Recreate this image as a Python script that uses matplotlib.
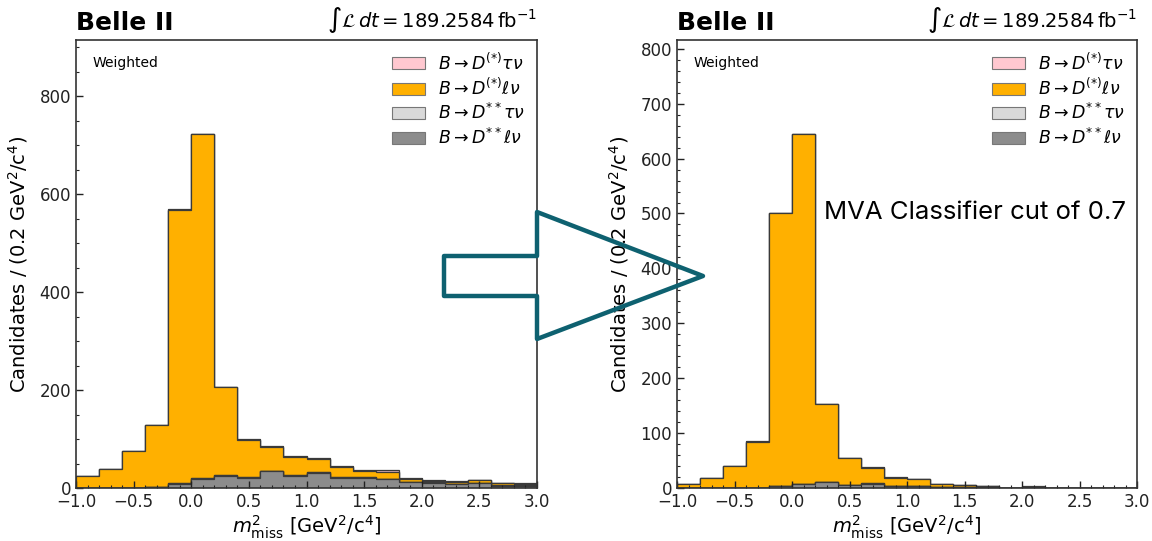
#!/usr/bin/env python3
"""Missing-mass-squared stacks before and after the MVA classifier cut."""
import numpy as np
import matplotlib
matplotlib.use('Agg')
import matplotlib.pyplot as plt
from matplotlib.ticker import MultipleLocator
from matplotlib.patches import Polygon, Patch

edges = np.linspace(-1.0, 3.0, 21)
centers = 0.5 * (edges[:-1] + edges[1:])

labels = [r'$B \to D^{**}\ell\nu$', r'$B \to D^{**}\tau\nu$',
          r'$B \to D^{(*)}\ell\nu$', r'$B \to D^{(*)}\tau\nu$']
colors = ['#8c8c8c', '#d9d9d9', '#ffb000', '#ffc8d0']

# weighted yields per 0.2 GeV^2/c^4 bin, no cut
dss_lnu_all = [0, 0, 1, 3, 9, 19, 25, 21, 34, 24.5, 30.6, 21, 21, 17.7, 11.6, 10, 7.5, 9.5, 5, 5]
dss_tau_all = [0, 0, 0, 0, 0.5, 0.5, 1, 1, 1.5, 1.5, 1.5, 1.5, 1.5, 1.5, 1.5, 1.5, 1, 1, 1, 1]
ds_lnu_all = [24.3, 39.2, 74, 125, 557.5, 702.5, 179.5, 76.5, 47.5, 38, 27.4, 19.5, 12.9, 14.3,
              5.9, 3.5, 3.6, 5, 4, 2.5]
ds_tau_all = [0.2, 0.3, 0.5, 1, 2, 2, 1.5, 1.5, 2, 2, 2.5, 2, 2, 2.5, 2, 2, 1.5, 1.5, 1, 1]

# weighted yields after MVA > 0.7
dss_lnu_cut = [0, 0, 0, 0.5, 3, 7, 11.5, 6, 8, 4, 4, 1.8, 1.5, 2.4, 0.3, 1, 0, 0, 0, 0]
dss_tau_cut = [0, 0, 0, 0, 0.2, 0.3, 0.3, 0.3, 0.3, 0.3, 0.3, 0.2, 0.2, 0.2, 0, 0.3, 0, 0, 0, 0]
ds_lnu_cut = [7.9, 17.8, 40.4, 84, 496.8, 636.7, 140.4, 47.9, 28.1, 14.5, 11.5, 5.5, 3.8, 0.9,
              0, 0.3, 0, 0, 0, 0]
ds_tau_cut = [0.1, 0.2, 0.3, 0.5, 1, 1, 0.8, 0.8, 1.2, 1.2, 1.2, 0.5, 0.5, 0.5, 0.2, 2, 0.3, 0.3, 0, 0]

W, H = 1152, 541
fig = plt.figure(figsize=(W / 100, H / 100), dpi=100)
ax_l = fig.add_axes([76 / W, 53 / H, 461 / W, 448 / H])
ax_r = fig.add_axes([677 / W, 53 / H, 460 / W, 448 / H])


def draw(ax, comps, ymax, ymajor, yminor):
    ax.hist([centers] * 4, bins=edges, weights=comps, stacked=True,
            histtype='stepfilled', color=colors, edgecolor='#3a3a3a', linewidth=0.9)
    ax.set_xlim(-1.0, 3.0)
    ax.set_ylim(0, ymax)
    ax.xaxis.set_major_locator(MultipleLocator(0.5))
    ax.xaxis.set_minor_locator(MultipleLocator(0.1))
    ax.yaxis.set_major_locator(MultipleLocator(ymajor))
    ax.yaxis.set_minor_locator(MultipleLocator(yminor))
    ax.tick_params(which='both', direction='in', labelsize=12, colors='#222222')
    ax.tick_params(which='major', length=5, width=1)
    ax.tick_params(which='minor', length=2.5, width=0.8)
    for s in ax.spines.values():
        s.set_color('#333333')
        s.set_linewidth(1.2)
    ax.set_xlabel(r'$m^2_{\mathrm{miss}}$ [GeV$^2$/c$^4$]', fontsize=14, labelpad=2)
    ax.set_ylabel(r'Candidates / (0.2 GeV$^2$/c$^4$)', fontsize=14)
    ax.yaxis.set_label_coords(-0.1, 0.5)
    ax.text(0.035, 0.965, 'Weighted', transform=ax.transAxes, fontsize=10, va='top')
    handles = [Patch(facecolor=c, edgecolor='#777777', linewidth=0.8) for c in colors]
    ax.legend(handles[::-1], labels[::-1], loc='upper right', frameon=False, fontsize=12.5,
              handlelength=1.9, handleheight=0.7, handletextpad=0.75, labelspacing=0.25,
              borderaxespad=0.3, bbox_to_anchor=(1.0, 1.0))
    ax.text(0.0, 1.012, 'Belle II', transform=ax.transAxes, fontsize=18,
            fontweight='bold', va='bottom', ha='left')
    ax.text(1.0, 1.012, r'$\int\mathcal{L}\,dt = 189.2584\,\mathrm{fb}^{-1}$',
            transform=ax.transAxes, fontsize=14, va='bottom', ha='right')


draw(ax_l, [dss_lnu_all, dss_tau_all, ds_lnu_all, ds_tau_all], 915, 200, 50)
draw(ax_r, [dss_lnu_cut, dss_tau_cut, ds_lnu_cut, ds_tau_cut], 816, 100, 20)

ax_r.text(0.975, 0.615, 'MVA Classifier cut of 0.7', transform=ax_r.transAxes,
          fontsize=18.5, family='Inter', ha='right', va='center')

# outline arrow linking the two panels (pixel coords, y from top)
arrow_px = [(444, 256), (537, 256), (537, 212), (703, 276), (537, 339), (537, 296), (444, 296)]
arrow = Polygon([(x / W, 1 - y / H) for x, y in arrow_px], closed=True, fill=False,
                edgecolor='#0e6170', linewidth=3.2, joinstyle='round',
                transform=fig.transFigure, zorder=10)
fig.patches.append(arrow)

fig.savefig('out.png', dpi=100)
plt.close()
